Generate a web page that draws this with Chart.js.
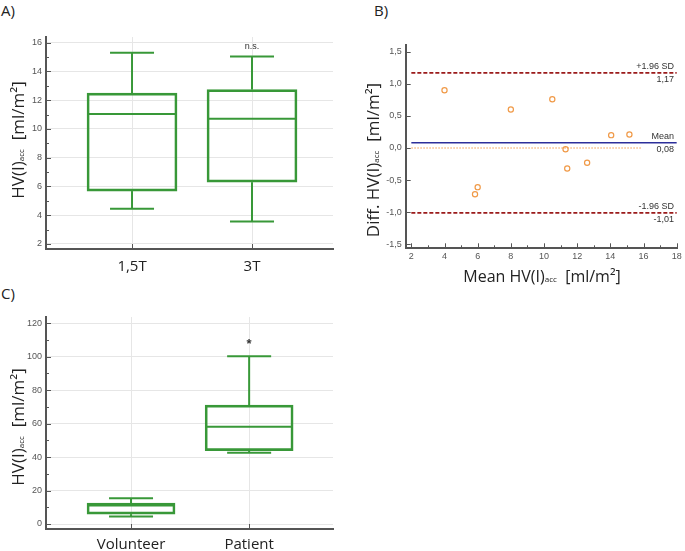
<!DOCTYPE html>
<html>
<head>
<meta charset="utf-8">
<script src="https://cdn.jsdelivr.net/npm/chart.js@4.4.1/dist/chart.umd.min.js"></script>
<style>
  body { margin: 0; background: #fff; width: 685px; height: 551px; position: relative; overflow: hidden; font-family: 'Open Sans', sans-serif; }
  canvas { position: absolute; }
  .lab { position: absolute; font-size: 15px; color: #222; line-height: 18px; }
</style>
</head>
<body>
<div class="lab" style="left:1px;top:1px">A)</div>
<div class="lab" style="left:374px;top:1px">B)</div>
<div class="lab" style="left:1px;top:284px">C)</div>
<canvas id="chartA" width="340" height="280" style="left:0;top:0"></canvas>
<canvas id="chartB" width="345" height="290" style="left:340px;top:0"></canvas>
<canvas id="chartC" width="340" height="271" style="left:0;top:280px"></canvas>
<script>
// A) box plot 1,5T vs 3T
const catsA = ['1,5T', '3T']
const minA = [4.45, 3.57]
const q1A = [5.68, 6.30]
const medA = [11.05, 10.72]
const q3A = [12.49, 12.74]
const maxA = [15.3, 15.05]
const yTicksA = [2, 4, 6, 8, 10, 12, 14, 16]
const yMinorA = [3, 5, 7, 9, 11, 13, 15]

// B) Bland-Altman
const meanB = [4.0, 5.84, 6.0, 8.0, 10.5, 11.3, 11.4, 12.6, 14.05, 15.15]
const diffB = [0.90, -0.72, -0.61, 0.60, 0.76, -0.02, -0.32, -0.23, 0.20, 0.21]
const upperLoA = 1.17
const meanDiff = 0.08
const lowerLoA = -1.01
const lineRange = [2, 18]
const zeroRange = [2, 15.9]
const xTicksB = [2, 4, 6, 8, 10, 12, 14, 16, 18]
const xMinorB = [3, 5, 7, 9, 11, 13, 15, 17]
const yTicksB = [-1.5, -1, -0.5, 0, 0.5, 1, 1.5]

// C) box plot volunteer vs patient
const catsC = ['Volunteer', 'Patient']
const minC = [4.5, 42.6]
const q1C = [5.9, 43.8]
const medC = [11.0, 58.1]
const q3C = [12.5, 71.0]
const maxC = [15.4, 100.2]
const yTicksC = [0, 20, 40, 60, 80, 100, 120]
const yMinorC = [10, 30, 50, 70, 90, 110]

const green = '#389838'
const axisCol = '#555'
const tickFont = { family: "'Liberation Sans', Arial, sans-serif", size: 9 }

// baffi e mediana del box plot
const boxPlot = {
  id: 'boxPlot',
  afterDatasetsDraw(chart, args, o) {
    const { ctx, scales: { x, y } } = chart
    ctx.save()
    ctx.strokeStyle = o.color
    ctx.lineWidth = 2
    const seg = (x1, y1, x2, y2) => { ctx.beginPath(); ctx.moveTo(x1, y1); ctx.lineTo(x2, y2); ctx.stroke() }
    o.min.forEach((v, i) => {
      const cx = x.getPixelForValue(i)
      const hb = o.boxWidth / 2 - 1, hc = o.capWidth / 2
      seg(cx - hb, y.getPixelForValue(o.med[i]), cx + hb, y.getPixelForValue(o.med[i]))
      seg(cx, y.getPixelForValue(o.q3[i]), cx, y.getPixelForValue(o.max[i]))
      seg(cx - hc, y.getPixelForValue(o.max[i]), cx + hc, y.getPixelForValue(o.max[i]))
      seg(cx, y.getPixelForValue(o.q1[i]), cx, y.getPixelForValue(v))
      seg(cx - hc, y.getPixelForValue(v), cx + hc, y.getPixelForValue(v))
    })
    ctx.restore()
  }
}

// tacche verso l'interno + titoli degli assi con pedice
const decor = {
  id: 'decor',
  afterDraw(chart, args, o) {
    const { ctx, chartArea: a, scales: { x, y } } = chart
    ctx.save()
    ctx.strokeStyle = axisCol
    ctx.lineWidth = 1
    const t = o.ticks || {}
    ;(t.xMajor || []).forEach(v => { const p = Math.round(x.getPixelForValue(v)) + 0.5; ctx.beginPath(); ctx.moveTo(p, a.bottom); ctx.lineTo(p, a.bottom - 5); ctx.stroke() })
    ;(t.xMinor || []).forEach(v => { const p = Math.round(x.getPixelForValue(v)) + 0.5; ctx.beginPath(); ctx.moveTo(p, a.bottom); ctx.lineTo(p, a.bottom - 3); ctx.stroke() })
    ;(t.yMajor || []).forEach(v => { const p = Math.round(y.getPixelForValue(v)) + 0.5; ctx.beginPath(); ctx.moveTo(a.left, p); ctx.lineTo(a.left + 5, p); ctx.stroke() })
    ;(t.yMinor || []).forEach(v => { const p = Math.round(y.getPixelForValue(v)) + 0.5; ctx.beginPath(); ctx.moveTo(a.left, p); ctx.lineTo(a.left + 3, p); ctx.stroke() })

    const drawTitle = (tt, rotated) => {
      if (!tt) return
      const big = (tt.size || 17) + 'px "Open Sans"'
      ctx.save()
      ctx.translate(tt.x, tt.y)
      if (rotated) ctx.rotate(-Math.PI / 2)
      ctx.fillStyle = '#222'
      ctx.textBaseline = 'middle'
      const parts = [
        { s: tt.pre, f: big, dy: 0 },
        { s: 'acc', f: '8px "Open Sans"', dy: 3 },
        { s: tt.post, f: big, dy: 0 }
      ]
      let w = 0
      parts.forEach(p => { ctx.font = p.f; p.w = ctx.measureText(p.s).width; w += p.w })
      let cx = -w / 2
      parts.forEach(p => { ctx.font = p.f; ctx.fillText(p.s, cx, p.dy); cx += p.w })
      ctx.restore()
    }
    drawTitle(o.yTitle, true)
    drawTitle(o.xTitle, false)

    ;(o.notes || []).forEach(n => {
      ctx.font = n.font
      ctx.fillStyle = '#333'
      ctx.textAlign = 'center'
      ctx.textBaseline = 'middle'
      ctx.fillText(n.text, x.getPixelForValue(n.x), y.getPixelForValue(n.y))
    })
    ctx.restore()
  }
}
Chart.register(decor)

function boxChart(id, cats, mn, q1, med, q3, mx, yTicks, yMinor, xr, yr, boxW, xh, xpad, title, note) {
  return new Chart(document.getElementById(id).getContext('2d'), {
    type: 'bar',
    data: {
      datasets: [{
        data: cats.map((c, i) => ({ x: i, y: [q1[i], q3[i]] })),
        backgroundColor: 'rgba(0,0,0,0)',
        borderColor: green,
        borderWidth: 2,
        borderSkipped: false,
        barThickness: boxW
      }]
    },
    plugins: [boxPlot],
    options: {
      responsive: false,
      animation: false,
      events: [],
      layout: { padding: { top: 37, right: 7, left: 0, bottom: 0 } },
      scales: {
        x: {
          type: 'linear', min: xr[0], max: xr[1], offset: false,
          afterBuildTicks: s => { s.ticks = cats.map((c, i) => ({ value: i })) },
          afterFit: s => { s.height = xh },
          ticks: { callback: v => cats[v], color: '#222', font: { family: "'Open Sans'", size: 15 }, padding: xpad },
          grid: { color: '#e6e6e6', drawTicks: false, offset: false },
          border: { color: axisCol, width: 2 }
        },
        y: {
          min: yr[0], max: yr[1],
          afterBuildTicks: s => { s.ticks = yTicks.map(v => ({ value: v })) },
          afterFit: s => { s.width = 46 },
          ticks: { color: '#555', font: tickFont, padding: 4 },
          grid: { color: '#e6e6e6', drawTicks: false },
          border: { color: axisCol, width: 2 }
        }
      },
      plugins: {
        legend: { display: false },
        tooltip: { enabled: false },
        boxPlot: { min: mn, q1: q1, med: med, q3: q3, max: mx, boxWidth: boxW, capWidth: 44, color: green },
        decor: {
          ticks: { xMajor: cats.map((c, i) => i), yMajor: yTicks, yMinor: yMinor },
          yTitle: { x: 19, y: title, pre: 'HV(I)', post: '  [ml/m²]' },
          notes: [note]
        }
      }
    }
  })
}

boxChart('chartA', catsA, minA, q1A, medA, q3A, maxA, yTicksA, yMinorA, [-0.717, 1.675], [1.65, 16.4], 90, 31, 9, 140,
  { text: 'n.s.', x: 1, y: 15.72, font: "9px 'Liberation Sans', Arial" })
boxChart('chartC', catsC, minC, q1C, medC, q3C, maxC, yTicksC, yMinorC, [-0.72, 1.71], [-2.98, 123.6], 88, 22, 7, 147,
  { text: '*', x: 1, y: 107, font: "bold 13px 'Liberation Sans', Arial" })

// etichette delle linee di accordo
const loaLabels = {
  id: 'loaLabels',
  afterDatasetsDraw(chart) {
    const { ctx, chartArea: a, scales: { y } } = chart
    ctx.save()
    ctx.font = "9px 'Liberation Sans', Arial"
    ctx.fillStyle = '#333'
    ctx.textAlign = 'right'
    ctx.textBaseline = 'middle'
    ;[[upperLoA, '+1.96 SD', '1,17'], [meanDiff, 'Mean', '0,08'], [lowerLoA, '-1.96 SD', '-1,01']].forEach(l => {
      const p = y.getPixelForValue(l[0])
      ctx.fillText(l[1], a.right - 3, p - 6)
      ctx.fillText(l[2], a.right - 3, p + 7)
    })
    ctx.restore()
  }
}

const hLine = (val, range, color, dash, width, order) => ({
  type: 'line',
  data: range.map(v => ({ x: v, y: val })),
  borderColor: color,
  borderDash: dash,
  borderWidth: width,
  pointRadius: 0,
  order: order
})

new Chart(document.getElementById('chartB').getContext('2d'), {
  type: 'scatter',
  data: {
    datasets: [
      {
        data: meanB.map((m, i) => ({ x: m, y: diffB[i] })),
        pointStyle: 'circle',
        pointRadius: 2.6,
        borderColor: '#f09a48',
        backgroundColor: 'rgba(0,0,0,0)',
        borderWidth: 1.2,
        order: 0
      },
      hLine(upperLoA, lineRange, '#9b1b1b', [4, 2], 1.6, 2),
      hLine(lowerLoA, lineRange, '#9b1b1b', [4, 2], 1.6, 2),
      hLine(meanDiff, lineRange, '#2c2f9a', [], 1.5, 2),
      hLine(0, zeroRange, '#f09a48', [1.5, 1.5], 1.2, 1)
    ]
  },
  plugins: [loaLabels],
  options: {
    responsive: false,
    animation: false,
    events: [],
    layout: { padding: { top: 45, right: 8, left: 0, bottom: 0 } },
    scales: {
      x: {
        type: 'linear', min: 1.66, max: 18.02,
        afterBuildTicks: s => { s.ticks = xTicksB.map(v => ({ value: v })) },
        afterFit: s => { s.height = 41.7 },
        ticks: { color: '#555', font: tickFont, padding: 3 },
        grid: { display: false, drawTicks: false },
        border: { color: axisCol, width: 2 }
      },
      y: {
        min: -1.562, max: 1.604,
        afterBuildTicks: s => { s.ticks = yTicksB.map(v => ({ value: v })) },
        afterFit: s => { s.width = 65.7 },
        ticks: { color: '#555', font: tickFont, padding: 4, callback: v => v.toFixed(1).replace('.', ',') },
        grid: { display: false, drawTicks: false },
        border: { color: axisCol, width: 2 }
      }
    },
    plugins: {
      legend: { display: false },
      tooltip: { enabled: false },
      decor: {
        ticks: { xMajor: xTicksB, xMinor: xMinorB, yMajor: yTicksB },
        yTitle: { x: 34, y: 160, pre: 'Diff. HV(I)', post: '  [ml/m²]' },
        xTitle: { x: 202, y: 277, pre: 'Mean HV(I)', post: '  [ml/m²]', size: 16 }
      }
    }
  }
})
</script>
</body>
</html>
